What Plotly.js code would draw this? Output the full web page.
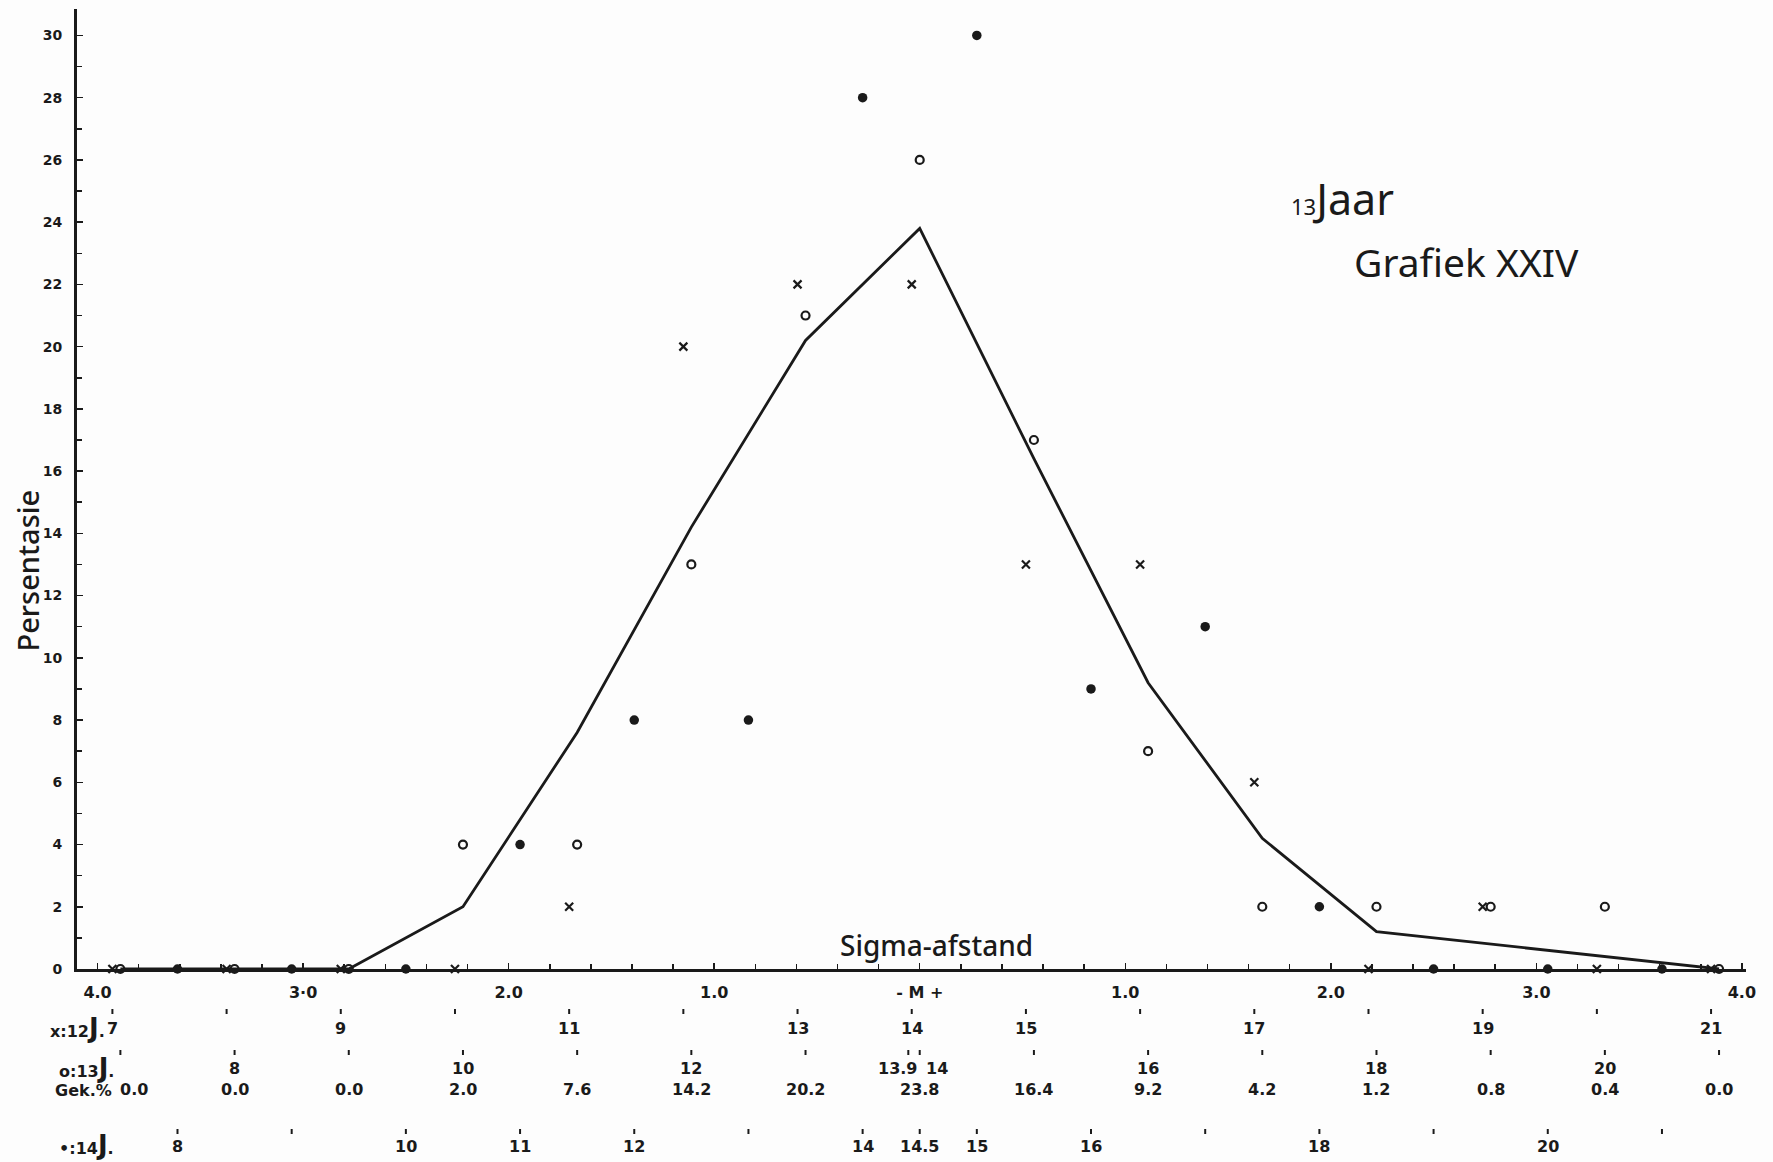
<!DOCTYPE html>
<html><head><meta charset="utf-8">
<script src="https://cdn.plot.ly/plotly-3.0.1.min.js"></script>
<style>html,body{margin:0;padding:0;background:#fdfdfd}</style>
</head><body><div id="chart" style="width:1773px;height:1162px"></div>
<script>
// ---- data ----
const SD = 1.8;                       // score units per sigma
const centre12 = 14.07, centre13 = 14.0, centre14 = 14.5;   // score at "M"

const scores12 = [7,8,9,10,11,12,13,14,15,16,17,18,19,20,21];
const pct12    = [0,0,0,0,2,20,22,22,13,13,6,0,2,0,0];
const scores13 = [7,8,9,10,11,12,13,14,15,16,17,18,19,20,21];
const pct13    = [0,0,0,4,4,13,21,26,17,7,2,2,2,2,0];
const scores14 = [8,9,10,11,12,13,14,15,16,17,18,19,20,21];
const pct14    = [0,0,0,4,8,8,28,30,9,11,2,0,0,0];
const gekPct   = [0.0,0.0,0.0,2.0,7.6,14.2,20.2,23.8,16.4,9.2,4.2,1.2,0.8,0.4,0.0];

const sigmaTicks  = [-4,-3,-2,-1,0,1,2,3,4];
const sigmaLabels = ['4.0','3·0','2.0','1.0','- M +','1.0','2.0','3.0','4.0'];
const yTicks = [0,2,4,6,8,10,12,14,16,18,20,22,24,26,28,30];

const lab12 = ['7','9','11','13','14','15','17','19','21'];
const lab13 = ['8','10','12','13.9','14','16','18','20'];
const lab14 = ['8','10','11','12','14','14.5','15','16','18','20'];
const dots12 = [7,8,9,10,11,12,13,14,15,16,17,18,19,20,21];
const dots13 = [7,8,9,10,11,12,13,13.9,14,15,16,17,18,19,20,21];
const dots14 = [8,9,10,11,12,13,14,14.5,15,16,17,18,19,20,21];

// ---- helpers ----
const toSigma = (s, c) => (s - c) / SD;
const INK = '#1a1a1a';
const rowFont = {family:'DejaVu Sans, sans-serif', size:16, color:INK, weight:700};

const traces = [
  {x: scores13.map(s => toSigma(s, centre13)), y: gekPct, type:'scatter', mode:'lines',
   line:{color:INK, width:2.8}, cliponaxis:false, name:'Gek.%'},
  {x: scores12.map(s => toSigma(s, centre12)), y: pct12, type:'scatter', mode:'markers',
   marker:{symbol:'x-thin-open', size:8, line:{width:2.2, color:INK}, color:INK}, cliponaxis:false, name:'12 J.'},
  {x: scores13.map(s => toSigma(s, centre13)), y: pct13, type:'scatter', mode:'markers',
   marker:{symbol:'circle-open', size:8, line:{width:2.2, color:INK}, color:INK}, cliponaxis:false, name:'13 J.'},
  {x: scores14.map(s => toSigma(s, centre14)), y: pct14, type:'scatter', mode:'markers',
   marker:{symbol:'circle', size:9.5, color:INK}, cliponaxis:false, name:'14 J.'}
];

const annotations = [];
const shapes = [];
function rowLabels(labels, centre, yshift, shifts) {
  labels.forEach(t => {
    annotations.push({xref:'x', x: toSigma(parseFloat(t), centre), xanchor:'center',
      yref:'paper', y:0, yanchor:'middle',
      yshift: yshift, xshift: (shifts && shifts[t]) || 0, text: t, showarrow:false, font: rowFont});
  });
}
function rowDots(list, centre, ypx) {
  list.forEach(s => {
    const x = toSigma(s, centre);
    shapes.push({type:'line', xref:'x', x0:x, x1:x, yref:'paper', ysizemode:'pixel', yanchor:0,
      y0: ypx, y1: ypx - 5, line:{color:INK, width:2}});
  });
}
rowDots(dots12, centre12, -40);
rowLabels(lab12, centre12, -59);
rowDots(dots13, centre13, -81);
rowLabels(lab13, centre13, -99, {'13.9': -11, '14': 17});
rowDots(dots14, centre14, -160);
rowLabels(lab14, centre14, -177);
gekPct.forEach((v, i) => {
  annotations.push({xref:'x', x: toSigma(scores13[i], centre13), xanchor:'center',
    yref:'paper', y:0, yanchor:'middle', yshift:-120,
    xshift: i === 0 ? 14 : 0, text: v.toFixed(1), showarrow:false, font: rowFont});
});
// row prefixes
const big = s => "<span style='font-size:26px'>" + s + "</span>";
const prefix = (text, xs, ys) => annotations.push({xref:'paper', x:0, xshift:xs, xanchor:'right',
  yref:'paper', y:0, yanchor:'middle', yshift:ys, text:text, showarrow:false, font: rowFont});
prefix('x:12' + big('J') + '.', 30, -59);
prefix('o:13' + big('J') + '.', 39, -99);
prefix('Gek.%', 37, -121);
prefix('•:14' + big('J') + '.', 39, -176);

// titles / captions
annotations.push({xref:'paper', x:0.515, xanchor:'center', yref:'paper', y:0, yanchor:'middle', yshift:24,
  text:'Sigma-afstand', showarrow:false, font:{family:'Noto Sans, sans-serif', size:28, color:INK, weight:500}});
annotations.push({xref:'paper', x:-0.0294, xanchor:'center', yref:'paper', y:0.415, yanchor:'middle',
  textangle:-90, text:'Persentasie', showarrow:false, font:{family:'Noto Sans, sans-serif', size:29, color:INK, weight:500}});
annotations.push({xref:'paper', x:0.726, xanchor:'left', yref:'paper', y:0.803, yanchor:'middle', text:
  "<span style='font-size:22px'>13</span>Jaar", showarrow:false,
  font:{family:'Noto Sans, sans-serif', size:43, color:INK}});
annotations.push({xref:'paper', x:0.764, xanchor:'left', yref:'paper', y:0.7365, yanchor:'middle', text:'Grafiek XXIV',
  showarrow:false, font:{family:'Noto Sans, sans-serif', size:39, color:INK}});

const layout = {
  width:1773, height:1162,
  margin:{l:77, r:27, t:9, b:193},
  paper_bgcolor:'#fdfdfd', plot_bgcolor:'#fdfdfd',
  showlegend:false,
  xaxis:{range:[-4.1, 4.02], showline:true, linewidth:2.5, linecolor:INK, showgrid:false, zeroline:false,
    tickmode:'array', tickvals:sigmaTicks, ticktext:sigmaLabels, ticks:'inside', ticklen:6, tickwidth:1.5,
    tickcolor:INK, ticklabelstandoff:7, tickfont:{family:'DejaVu Sans, sans-serif', size:16, color:INK, weight:700},
    minor:{tickmode:'linear', tick0:0, dtick:0.2, ticks:'inside', ticklen:5, tickwidth:1.5, tickcolor:INK, showgrid:false},
    fixedrange:true},
  yaxis:{range:[0, 30.85], showline:true, linewidth:3, linecolor:INK, showgrid:false, zeroline:false,
    tickmode:'array', tickvals:yTicks, ticks:'inside', ticklen:6, tickwidth:1.5, tickcolor:INK,
    ticklabelstandoff:9, tickfont:{family:'DejaVu Sans, sans-serif', size:14, color:INK, weight:700},
    minor:{tickmode:'linear', tick0:0, dtick:1, ticks:'inside', ticklen:5, tickwidth:1.5, tickcolor:INK, showgrid:false},
    fixedrange:true},
  annotations: annotations,
  shapes: shapes
};
Plotly.newPlot('chart', traces, layout, {displayModeBar:false, staticPlot:true});
</script></body></html>
